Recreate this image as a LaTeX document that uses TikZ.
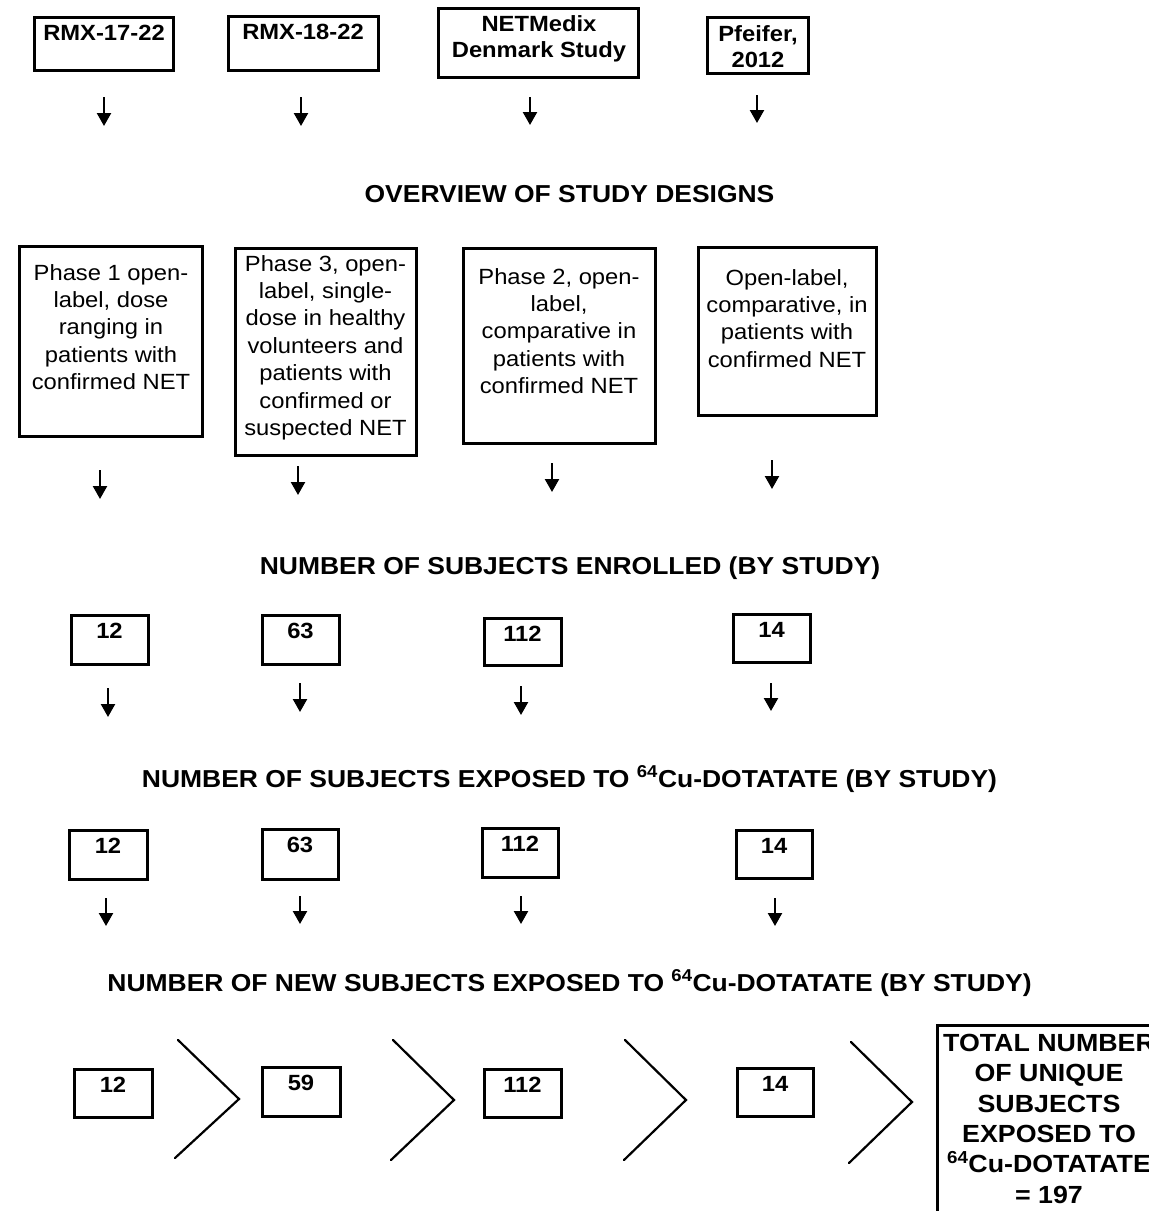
\documentclass[tikz,border=0pt]{standalone}
\usepackage{fontspec}
\setmainfont[FakeStretch=1.08]{Liberation Sans}
\usetikzlibrary{arrows.meta}
\tikzset{
  box/.style={draw, line width=3pt, inner sep=0pt},
  txt/.style={inner sep=0pt, anchor=north, align=center, font=\fontsize{22}{27.4}\selectfont},
  btxt/.style={inner sep=0pt, anchor=north, align=center, font=\fontsize{22}{26.5}\selectfont\bfseries},
  ttl/.style={inner sep=0pt, anchor=base, font=\fontsize{24.5}{28}\selectfont\bfseries},
  tot/.style={inner sep=0pt, anchor=north, align=center, font=\fontsize{24.8}{30.3}\selectfont\bfseries},
  arr/.style={line width=2.3pt, -{Triangle[width=14pt,length=13pt]}},
  chev/.style={line width=2.2pt, line cap=round},
}
\newcommand{\mybox}[5]{\node[box, minimum width={(#4)-(#2)}, minimum height={(#5)-(#3)}] (#1) at ({((#2)+(#4))/2},{((#3)+(#5))/2}) {};}
\newcommand{\myarr}[4]{\coordinate (#1s) at (#2,#3); \coordinate (#1e) at (#2,#4); \draw[arr] (#1s) -- (#1e);}
\begin{document}
\begin{tikzpicture}[x=1pt,y=-1pt]
\useasboundingbox (0,0) rectangle (1149,1211);
\clip (0,0) rectangle (1149,1211);
% Row 1: studies
\mybox{b1}{34}{17}{173}{70}
\mybox{b2}{228}{16}{378}{70}
\mybox{b3}{438}{8}{638}{77}
\mybox{b4}{707}{17}{808}{73}
\node[btxt] (t1) at (104,25) {RMX-17-22};
\node[btxt] (t2) at (303,24) {RMX-18-22};
\node[btxt] (t3) at (539,15) {NETMedix\\Denmark Study};
\node[btxt] (t4) at (758,25) {Pfeifer,\\2012};
\myarr{a11}{104}{97}{126}
\myarr{a12}{301}{97}{126}
\myarr{a13}{530}{97}{125}
\myarr{a14}{757}{95}{123}
\node[ttl] (h1) at (569.5,202) {OVERVIEW OF STUDY DESIGNS};
% Row 2: designs
\mybox{c1}{19}{246}{202}{436}
\mybox{c2}{235}{248}{416}{455}
\mybox{c3}{463}{248}{655}{443}
\mybox{c4}{698}{247}{876}{415}
\node[txt] (ct1) at (111,264) {Phase 1 open-\\label, dose\\ranging in\\patients with\\confirmed NET};
\node[txt] (ct2) at (325.5,255) {Phase 3, open-\\label, single-\\dose in healthy\\volunteers and\\patients with\\confirmed or\\suspected NET};
\node[txt] (ct3) at (559,268) {Phase 2, open-\\label,\\comparative in\\patients with\\confirmed NET};
\node[txt] (ct4) at (787,269) {Open-label,\\comparative, in\\patients with\\confirmed NET};
\myarr{a21}{100}{470}{499}
\myarr{a22}{298}{466}{495}
\myarr{a23}{552}{463}{492}
\myarr{a24}{772}{460}{489}
\node[ttl] (h2) at (570,574) {NUMBER OF SUBJECTS ENROLLED (BY STUDY)};
% Row 3: enrolled
\mybox{d1}{71}{615}{148}{664}
\mybox{d2}{262}{615}{339}{664}
\mybox{d3}{484}{618}{561}{665}
\mybox{d4}{733}{614}{810}{662}
\node[btxt] (dt1) at (109.5,623) {12};
\node[btxt] (dt2) at (300.5,623) {63};
\node[btxt] (dt3) at (522.5,626) {112};
\node[btxt] (dt4) at (771.5,622) {14};
\myarr{a31}{108}{688}{717}
\myarr{a32}{300}{683}{712}
\myarr{a33}{521}{686}{715}
\myarr{a34}{771}{683}{711}
\node[ttl] (h3) at (569.5,787) {NUMBER OF SUBJECTS EXPOSED TO \textsuperscript{64}Cu-DOTATATE (BY STUDY)};
% Row 4: exposed
\mybox{e1}{69}{830}{147}{879}
\mybox{e2}{262}{829}{338}{879}
\mybox{e3}{482}{828}{558}{877}
\mybox{e4}{736}{830}{812}{878}
\node[btxt] (et1) at (108,838) {12};
\node[btxt] (et2) at (300,837) {63};
\node[btxt] (et3) at (520,836) {112};
\node[btxt] (et4) at (774,838) {14};
\myarr{a41}{106}{898}{926}
\myarr{a42}{300}{896}{924}
\myarr{a43}{521}{896}{924}
\myarr{a44}{775}{898}{926}
\node[ttl] (h4) at (569.5,991) {NUMBER OF NEW SUBJECTS EXPOSED TO \textsuperscript{64}Cu-DOTATATE (BY STUDY)};
% Row 5: new subjects
\mybox{f1}{74}{1069}{152}{1117}
\mybox{f2}{262}{1067}{340}{1116}
\mybox{f3}{484}{1069}{561}{1117}
\mybox{f4}{737}{1068}{813}{1116}
\node[btxt] (ft1) at (113,1077) {12};
\node[btxt] (ft2) at (301,1075) {59};
\node[btxt] (ft3) at (522.5,1077) {112};
\node[btxt] (ft4) at (775,1076) {14};
\draw[chev] (178,1040) -- (239,1099) -- (175,1158);
\draw[chev] (393,1040) -- (454,1100) -- (391,1160);
\draw[chev] (625,1040) -- (686,1100) -- (624,1160);
\draw[chev] (851,1042) -- (912,1102) -- (849,1163);
\mybox{g}{937}{1025}{1175}{1240}
\node[tot] (gt) at (1049,1034) {TOTAL NUMBER\\OF UNIQUE\\SUBJECTS\\EXPOSED TO\\\textsuperscript{64}Cu-DOTATATE\\= 197};
\end{tikzpicture}
\end{document}
